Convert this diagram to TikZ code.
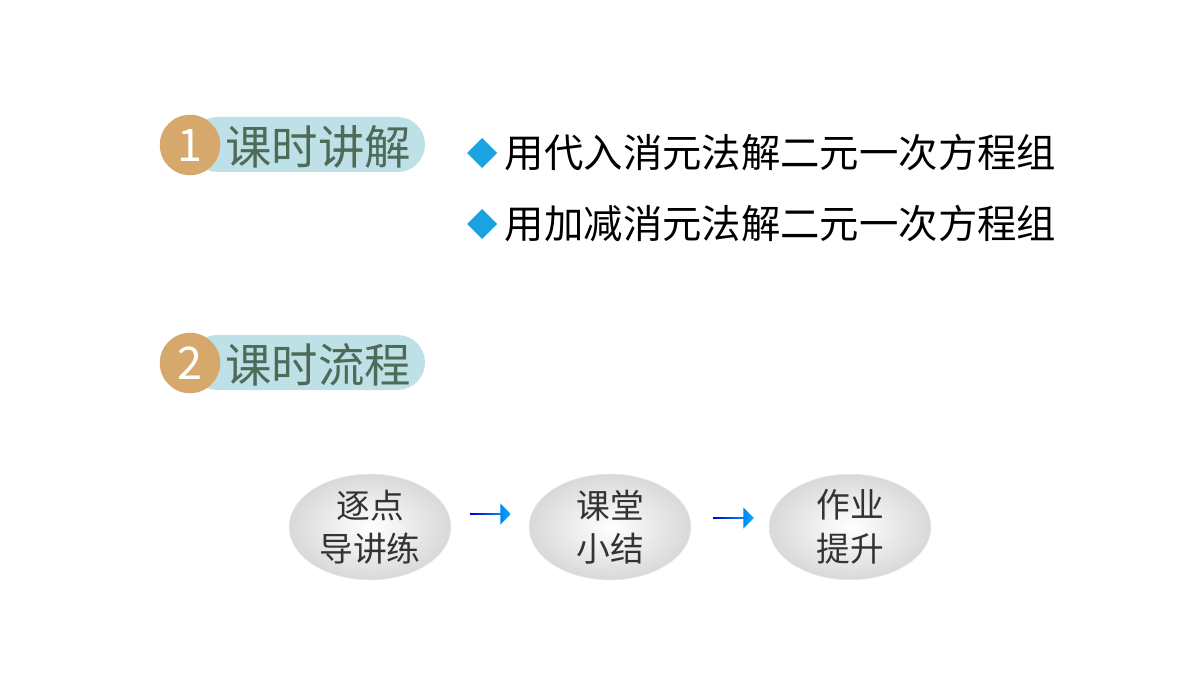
\documentclass[tikz,border=0pt]{standalone}
\usepackage{fontspec}
\newfontfamily\cjk{Noto Sans CJK SC}
\usetikzlibrary{shapes.arrows,shapes.geometric,positioning}
\definecolor{badgeorange}{HTML}{D6A86C}
\definecolor{pillblue}{HTML}{BEE1E7}
\definecolor{titlegreen}{HTML}{4E6B58}
\definecolor{bulletblue}{HTML}{1AA3E0}
\tikzset{
  pill/.style={fill=pillblue, rounded corners=19.5pt},
  badge/.style={circle, fill=badgeorange, minimum size=43pt, inner sep=0, text=white, font=\cjk\fontsize{32pt}{32pt}\selectfont},
  title/.style={text=titlegreen, font=\cjk\fontsize{33pt}{33pt}\selectfont},
  bullet/.style={anchor=west, font=\cjk\fontsize{28pt}{28pt}\selectfont},
  stage/.style={ellipse, minimum width=115pt, minimum height=67pt, inner sep=0, align=center,
    inner color=white, outer color=gray!30, draw=gray!20, font=\cjk\fontsize{24pt}{31pt}\selectfont, text=black!80},
  flow/.style={single arrow, minimum width=15pt, single arrow head extend=2pt, minimum height=29pt, inner sep=0,
    left color=blue!80!black, right color=cyan!70!blue, shape border rotate=0}
}
\begin{document}
\begin{tikzpicture}[x=0.025cm,y=-0.025cm]
  \useasboundingbox (0,0) rectangle (1200,675);
  \fill[white] (0,0) rectangle (1200,675);

  % section 1
  \fill[pill] (190,117) rectangle (425,172);
  \node[badge] (b1) at (190,145) {1};
  \node[title] (t1) at (318,147) {课时讲解};

  % bullets
  \fill[bulletblue] (482,138) -- (497,153) -- (482,168) -- (467,153) -- cycle;
  \node[bullet] (p1) at (500,153) {用代入消元法解二元一次方程组};
  \fill[bulletblue] (482,209) -- (497,224) -- (482,239) -- (467,224) -- cycle;
  \node[bullet] (p2) at (500,224) {用加减消元法解二元一次方程组};

  % section 2
  \fill[pill] (190,335) rectangle (425,390);
  \node[badge] (b2) at (190,363) {2};
  \node[title] (t2) at (318,365) {课时流程};

  % flow
  \node[stage] (s1) at (370,527) {逐点\\导讲练};
  \node[stage] (s2) at (610,527) {课堂\\小结};
  \node[stage] (s3) at (850,527) {作业\\提升};
  \node[flow] (a1) at (490,514) {};
  \node[flow] (a2) at (733,518) {};
\end{tikzpicture}
\end{document}
